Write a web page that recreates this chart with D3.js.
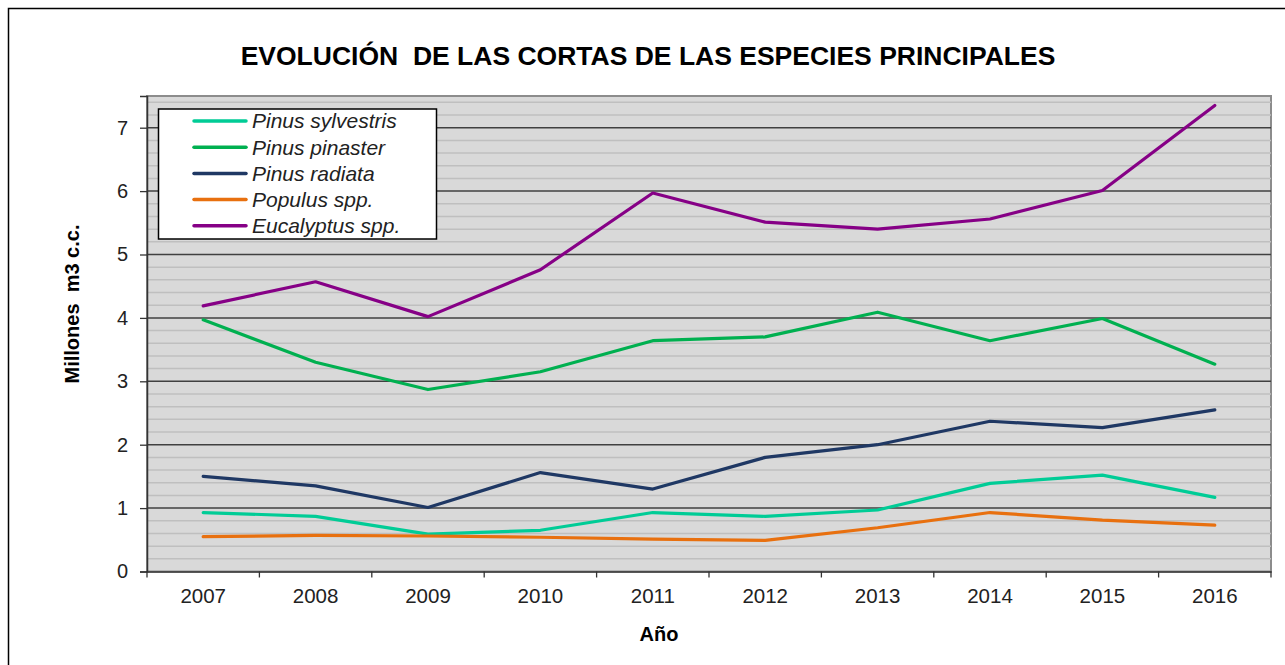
<!DOCTYPE html>
<html>
<head>
<meta charset="utf-8">
<script src="https://cdn.jsdelivr.net/npm/d3@7"></script>
<style>
  body { margin: 0; background: #fff; }
  text { font-family: "Liberation Sans", Arial, sans-serif; }
</style>
</head>
<body>
<script>
// data (millones m3 c.c.)
var years = ["2007", "2008", "2009", "2010", "2011", "2012", "2013", "2014", "2015", "2016"];
var species = ["Pinus sylvestris", "Pinus pinaster", "Pinus radiata", "Populus spp.", "Eucalyptus spp."];
var sylvestris = [0.93, 0.87, 0.59, 0.65, 0.93, 0.87, 0.97, 1.39, 1.52, 1.17];
var pinaster = [3.97, 3.30, 2.87, 3.15, 3.64, 3.70, 4.09, 3.64, 3.99, 3.27];
var radiata = [1.50, 1.35, 1.01, 1.56, 1.30, 1.80, 2.00, 2.37, 2.27, 2.55];
var populus = [0.55, 0.57, 0.56, 0.54, 0.51, 0.49, 0.69, 0.93, 0.81, 0.73];
var eucalyptus = [4.19, 4.57, 4.02, 4.76, 5.97, 5.51, 5.40, 5.56, 6.01, 7.35];
var yTicks = [0, 1, 2, 3, 4, 5, 6, 7];
var colors = ["#00cc96", "#00b050", "#1f3864", "#e8700f", "#860086"];

(function() {

  var series = [sylvestris, pinaster, radiata, populus, eucalyptus].map(function(v, i) {
    return {name: species[i], color: colors[i], values: v};
  });

  var W = 1285, H = 665;
  var pLeft = 147, pRight = 1271, pTop = 96, pBottom = 571.5;

  var svg = d3.select("body").append("svg")
    .attr("width", W)
    .attr("height", H);

  // outer frame
  svg.append("rect")
    .attr("x", 8.5).attr("y", 8.5)
    .attr("width", W + 20).attr("height", H + 20)
    .attr("fill", "#fff")
    .attr("stroke", "#000")
    .attr("stroke-width", 1.5);

  var x = d3.scaleBand().domain(years).range([pLeft, pRight]);
  var y = d3.scaleLinear().domain([0, 7.5]).range([pBottom, pTop]);

  // plot background
  svg.append("rect")
    .attr("x", pLeft).attr("y", pTop)
    .attr("width", pRight - pLeft).attr("height", pBottom - pTop)
    .attr("fill", "#d9d9d9")
    .attr("stroke", "#8c8c8c")
    .attr("stroke-width", 2);

  // minor gridlines every 0.2
  var minor = d3.range(1, 38).map(function(d) { return d / 5; }).filter(function(d) { return d % 1 !== 0; });
  svg.append("g").selectAll("line")
    .data(minor)
    .enter().append("line")
    .attr("x1", pLeft).attr("x2", pRight)
    .attr("y1", function(d) { return y(d); })
    .attr("y2", function(d) { return y(d); })
    .attr("stroke", "#bfbfbf")
    .attr("stroke-width", 1.5);

  // major gridlines
  svg.append("g").selectAll("line")
    .data(yTicks.slice(1))
    .enter().append("line")
    .attr("x1", pLeft).attr("x2", pRight)
    .attr("y1", function(d) { return y(d); })
    .attr("y2", function(d) { return y(d); })
    .attr("stroke", "#404040")
    .attr("stroke-width", 1.5);

  // y axis
  var yAxis = svg.append("g")
    .attr("transform", "translate(" + pLeft + ",0)")
    .call(d3.axisLeft(y).tickValues(yTicks).tickSize(7).tickPadding(12).tickFormat(d3.format("d")));
  yAxis.select(".domain").attr("stroke", "#333").attr("stroke-width", 1.5);
  yAxis.selectAll(".tick line").attr("stroke", "#333").attr("stroke-width", 1.3);
  yAxis.selectAll(".tick text")
    .attr("fill", "#222")
    .style("font-size", "20px")
    .style("font-family", "Liberation Sans, Arial, sans-serif");

  // x axis: labels centered on bands, ticks on band edges
  var xAxis = svg.append("g")
    .attr("transform", "translate(0," + pBottom + ")")
    .call(d3.axisBottom(x).tickSize(0).tickPadding(17).tickSizeOuter(0));
  xAxis.select(".domain").attr("stroke", "#333").attr("stroke-width", 1.5);
  xAxis.selectAll(".tick text")
    .attr("fill", "#222")
    .style("font-size", "20.5px")
    .style("font-family", "Liberation Sans, Arial, sans-serif");

  var edges = years.map(function(d) { return x(d); }).concat([x(years[years.length - 1]) + x.bandwidth()]);
  xAxis.selectAll(".edge")
    .data(edges)
    .enter().append("line")
    .attr("class", "edge")
    .attr("x1", function(d) { return d; })
    .attr("x2", function(d) { return d; })
    .attr("y1", 0).attr("y2", 6)
    .attr("stroke", "#333")
    .attr("stroke-width", 1.3);

  // lines
  var line = d3.line()
    .x(function(d, i) { return x(years[i]) + x.bandwidth() / 2; })
    .y(function(d) { return y(d); });

  svg.append("g").selectAll("path")
    .data(series)
    .enter().append("path")
    .attr("d", function(d) { return line(d.values); })
    .attr("fill", "none")
    .attr("stroke", function(d) { return d.color; })
    .attr("stroke-width", 3.2)
    .attr("stroke-linejoin", "round")
    .attr("stroke-linecap", "round");

  // title
  svg.append("text")
    .attr("x", 648).attr("y", 65)
    .attr("text-anchor", "middle")
    .style("font-size", "26.5px")
    .style("font-weight", "bold")
    .style("white-space", "pre")
    .text("EVOLUCIÓN  DE LAS CORTAS DE LAS ESPECIES PRINCIPALES");

  // axis titles
  svg.append("text")
    .attr("transform", "translate(79,304) rotate(-90)")
    .attr("text-anchor", "middle")
    .style("font-size", "20px")
    .style("font-weight", "bold")
    .style("white-space", "pre")
    .text("Millones  m3 c.c.");

  svg.append("text")
    .attr("x", 659).attr("y", 641)
    .attr("text-anchor", "middle")
    .style("font-size", "20px")
    .style("font-weight", "bold")
    .text("Año");

  // legend
  var legend = svg.append("g");
  legend.append("rect")
    .attr("x", 158.5).attr("y", 109)
    .attr("width", 278).attr("height", 130)
    .attr("fill", "#fff")
    .attr("stroke", "#000")
    .attr("stroke-width", 1.5);

  var item = legend.selectAll(".item")
    .data(series)
    .enter().append("g")
    .attr("class", "item")
    .attr("transform", function(d, i) { return "translate(0," + (121 + i * 26.2) + ")"; });

  item.append("line")
    .attr("x1", 194).attr("x2", 246)
    .attr("stroke", function(d) { return d.color; })
    .attr("stroke-width", 3.5)
    .attr("stroke-linecap", "round");

  item.append("text")
    .attr("x", 252).attr("dy", "0.35em")
    .attr("fill", "#222")
    .style("font-size", "21px")
    .style("font-style", "italic")
    .text(function(d) { return d.name; });

})();
</script>
</body>
</html>
